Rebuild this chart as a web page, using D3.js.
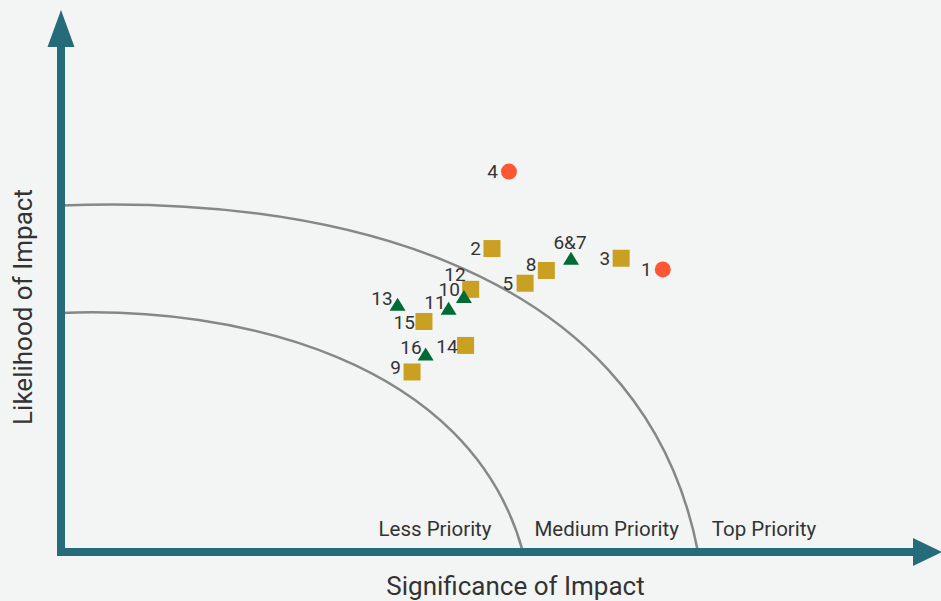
<!DOCTYPE html>
<html>
<head>
<meta charset="utf-8">
<script src="https://cdn.jsdelivr.net/npm/d3@7"></script>
<style>
  html, body { margin: 0; padding: 0; background: #f3f5f4; }
  svg { display: block; }
  text { font-family: Roboto, "Noto Sans", sans-serif; fill: #333; }
</style>
</head>
<body>
<svg id="chart" width="941" height="601"></svg>
<script>
// ---------- data ----------
const ids          = ["1", "2", "3", "4", "5", "6&7", "8", "9", "10", "11", "12", "13", "14", "15", "16"];
const significance = [7.08, 5.07, 6.59, 5.27, 5.46, 6.00, 5.71, 4.13, 4.74, 4.56, 4.82, 3.96, 4.76, 4.27, 4.29];
const likelihood   = [5.54, 5.95, 5.76, 7.46, 5.27, 5.76, 5.52, 3.53, 5.01, 4.78, 5.15, 4.86, 4.05, 4.52, 3.88];
const riskType     = ["high", "medium", "medium", "high", "medium", "low", "medium", "medium", "low", "low", "medium", "low", "medium", "medium", "low"];
const zoneLabels   = ["Less Priority", "Medium Priority", "Top Priority"];
const zoneLabelX   = [4.4, 6.42, 8.27];
// priority boundaries as cubic Bezier control points [x, y] in data units
const innerBoundary = [[0, 4.686], [2.035, 4.827], [4.812, 3.80], [5.435, 0]];
const outerBoundary = [[0, 6.794], [2.812, 6.99], [6.812, 5.92], [7.494, 0]];
const xTitle = "Significance of Impact";
const yTitle = "Likelihood of Impact";

// ---------- layout ----------
const W = 941, H = 601;
const x0 = 61, y0 = 552;
const x = d3.scaleLinear().domain([0, 10]).range([x0, x0 + 850]);
const y = d3.scaleLinear().domain([0, 10]).range([y0, y0 - 510]);

const colors = { high: "#ff5733", medium: "#c9a022", low: "#006b35" };
const axisColor = "#266b7a";

// label offsets (pixels) relative to marker centre: [dx, dy, anchor]
const labelOffset = {
  "1": [-11, 0, "end"], "2": [-11, 0, "end"], "3": [-11, 0, "end"], "4": [-11, 0, "end"],
  "5": [-12, 0, "end"], "6&7": [-1, -16, "middle"], "8": [-10, -6, "end"], "9": [-11, -5, "end"],
  "10": [-4, -7, "end"], "11": [-3, -6, "end"], "12": [-5, -15, "end"], "13": [-5, -6, "end"],
  "14": [-8, 1, "end"], "15": [-9, 1, "end"], "16": [-4, -7, "end"]
};

const svg = d3.select("#chart");
svg.append("rect").attr("width", W).attr("height", H).attr("fill", "#f3f5f4");

// ---------- priority boundaries ----------
[innerBoundary, outerBoundary].forEach(cp => {
  const p = d3.path();
  p.moveTo(x(cp[0][0]), y(cp[0][1]));
  p.bezierCurveTo(x(cp[1][0]), y(cp[1][1]), x(cp[2][0]), y(cp[2][1]), x(cp[3][0]), y(cp[3][1]));
  svg.append("path")
    .attr("d", p.toString())
    .attr("fill", "none")
    .attr("stroke", "#878787")
    .attr("stroke-width", 2.5);
});

// ---------- axes with arrows ----------
svg.append("line")
  .attr("x1", x(0)).attr("y1", y(0)).attr("x2", x(0)).attr("y2", 46)
  .attr("stroke", axisColor).attr("stroke-width", 8).attr("stroke-linecap", "square");
svg.append("line")
  .attr("x1", x(0)).attr("y1", y(0)).attr("x2", 914).attr("y2", y(0))
  .attr("stroke", axisColor).attr("stroke-width", 8).attr("stroke-linecap", "square");
svg.append("path")
  .attr("d", `M${x(0)},10 L${x(0) + 13.5},47 L${x(0) - 13.5},47 Z`)
  .attr("fill", axisColor);
svg.append("path")
  .attr("d", `M942,${y(0)} L913,${y(0) - 14} L913,${y(0) + 14} Z`)
  .attr("fill", axisColor);

// ---------- zone labels ----------
svg.selectAll("text.zone").data(zoneLabels).join("text")
  .attr("class", "zone")
  .attr("x", (d, i) => x(zoneLabelX[i]))
  .attr("y", 536)
  .attr("text-anchor", "middle")
  .attr("font-size", 20.5)
  .text(d => d);

// ---------- axis titles ----------
svg.append("text")
  .attr("x", 515.5).attr("y", 595)
  .attr("text-anchor", "middle")
  .attr("font-size", 26)
  .text(xTitle);
svg.append("text")
  .attr("transform", `translate(32,307) rotate(-90)`)
  .attr("text-anchor", "middle")
  .attr("font-size", 26)
  .text(yTitle);

// ---------- points ----------
const pts = ids.map((id, i) => ({ id, sx: significance[i], ly: likelihood[i], type: riskType[i] }));
const order = { medium: 0, low: 1, high: 2 };
const sorted = pts.slice().sort((a, b) => order[a.type] - order[b.type]);

const g = svg.append("g");
sorted.forEach(p => {
  const cx = x(p.sx), cy = y(p.ly);
  if (p.type === "high") {
    g.append("circle").attr("cx", cx).attr("cy", cy).attr("r", 8).attr("fill", colors.high);
  } else if (p.type === "medium") {
    g.append("rect").attr("x", cx - 8.5).attr("y", cy - 8.5).attr("width", 17).attr("height", 17)
      .attr("fill", colors.medium);
  } else {
    g.append("path")
      .attr("d", `M${cx},${cy - 6.5} L${cx + 8},${cy + 6.5} L${cx - 8},${cy + 6.5} Z`)
      .attr("fill", colors.low);
  }
});

pts.forEach(p => {
  const o = labelOffset[p.id];
  svg.append("text")
    .attr("x", x(p.sx) + o[0])
    .attr("y", y(p.ly) + o[1] + 6.7)
    .attr("text-anchor", o[2])
    .attr("font-size", 19)
    .text(p.id);
});
</script>
</body>
</html>
